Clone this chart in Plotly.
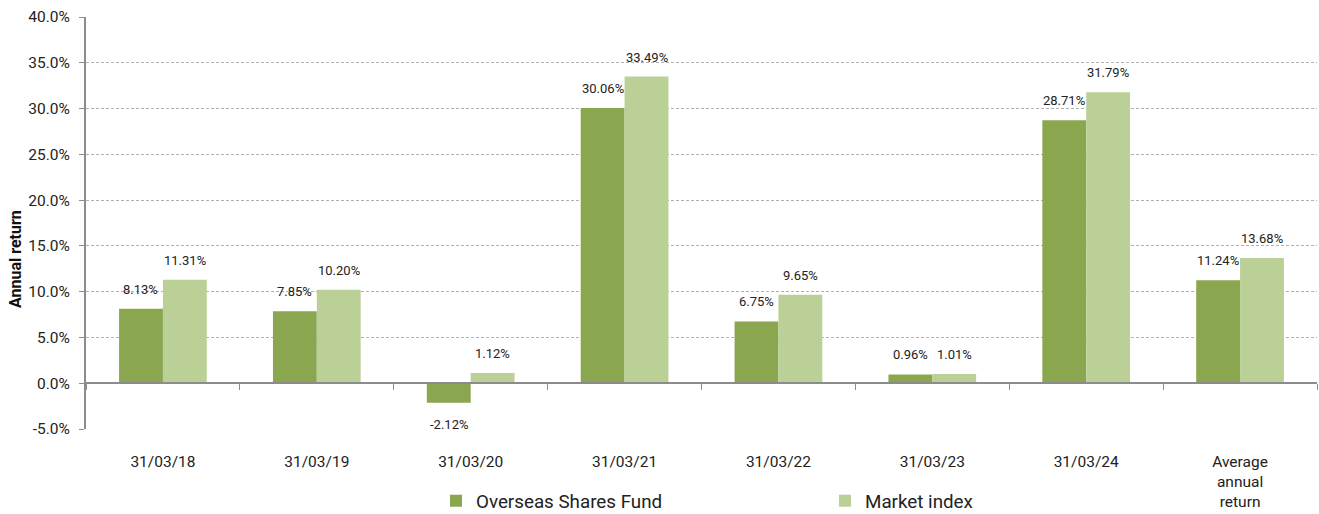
import plotly.graph_objects as go

categories = ["31/03/18", "31/03/19", "31/03/20", "31/03/21", "31/03/22", "31/03/23", "31/03/24",
              "Average<br>annual<br>return"]
fund = [8.13, 7.85, -2.12, 30.06, 6.75, 0.96, 28.71, 11.24]
index = [11.31, 10.20, 1.12, 33.49, 9.65, 1.01, 31.79, 13.68]
series_names = ["Overseas Shares Fund", "Market index"]
y_tick_vals = [-5, 0, 5, 10, 15, 20, 25, 30, 35, 40]
y_tick_text = ["-5.0%", "0.0%", "5.0%", "10.0%", "15.0%", "20.0%", "25.0%", "30.0%", "35.0%", "40.0%"]
y_title = "Annual return"

DARK = "#8aa64f"
LIGHT = "#bbd097"
FONT = "Roboto"
W, H = 1319, 514
ML, MR, MT, MB = 86, 2, 17, 85
PW, PH = W - ML - MR, H - MT - MB

fig = go.Figure()
fig.add_trace(go.Bar(x=categories, y=fund, name=series_names[0], marker_color=DARK,
                     marker_line_width=0, hoverinfo="skip"))
fig.add_trace(go.Bar(x=categories, y=index, name=series_names[1], marker_color=LIGHT,
                     marker_line_width=0, hoverinfo="skip"))

annotations = []
for vals, xs in ((fund, -22), (index, 22)):
    for c, v in zip(categories, vals):
        annotations.append(dict(
            x=c, y=v, text=f"{v:.2f}%", showarrow=False, xshift=xs,
            yanchor="bottom" if v >= 0 else "top", yshift=10 if v >= 0 else -12,
            font=dict(family=FONT, size=13, color="#222")))
annotations.append(dict(
    xref="paper", yref="paper", x=(15 - ML) / PW, y=(H - MB - 259) / PH,
    xanchor="center", yanchor="middle", textangle=-90, showarrow=False,
    text=f"<b>{y_title}</b>", font=dict(family=FONT, size=16, color="#111")))

fig.update_layout(
    width=W, height=H,
    margin=dict(l=ML, r=MR, t=MT, b=MB, autoexpand=False),
    plot_bgcolor="white", paper_bgcolor="white",
    barmode="group", bargap=0.43, bargroupgap=0,
    font=dict(family=FONT, size=15.5, color="#222"),
    annotations=annotations,
    showlegend=True,
    legend=dict(orientation="h", x=(436 - ML) / PW, xanchor="left", y=(H - MB - 501) / PH,
                yanchor="middle",
                font=dict(family=FONT, size=18.8, color="#222"),
                entrywidth=344, entrywidthmode="pixels", itemwidth=30,
                traceorder="normal"),
    xaxis=dict(type="category", showgrid=False, showline=False, automargin=False,
               ticks="outside", ticklen=18, tickcolor="rgba(0,0,0,0)",
               tickfont=dict(family=FONT, size=15.5, color="#222"), fixedrange=True),
    xaxis2=dict(type="category", overlaying="x", matches="x", anchor="free",
                position=5 / 45, showline=True, linecolor="#8c8c8c", linewidth=2,
                ticks="outside", tickson="boundaries", ticklen=6, tickcolor="#8c8c8c",
                tickwidth=1, showticklabels=False, showgrid=False, automargin=False),
    yaxis=dict(range=[-5, 40], tickmode="array", tickvals=y_tick_vals, ticktext=y_tick_text,
               showgrid=True, gridcolor="#b0b0b0", griddash="3px,2px", gridwidth=1,
               zeroline=False, showline=True, linecolor="#8c8c8c", linewidth=2,
               ticks="outside", ticklen=5, tickcolor="#8c8c8c", ticklabelstandoff=6,
               automargin=False,
               tickfont=dict(family=FONT, size=15.5, color="#222")),
)
# invisible trace to render the zero-level category axis
fig.add_trace(go.Bar(x=categories, y=[None] * len(categories), xaxis="x2",
                     showlegend=False, hoverinfo="skip"))

fig.write_html("out.html", config={"displayModeBar": False},
               post_script="document.body.style.margin='0px';")
